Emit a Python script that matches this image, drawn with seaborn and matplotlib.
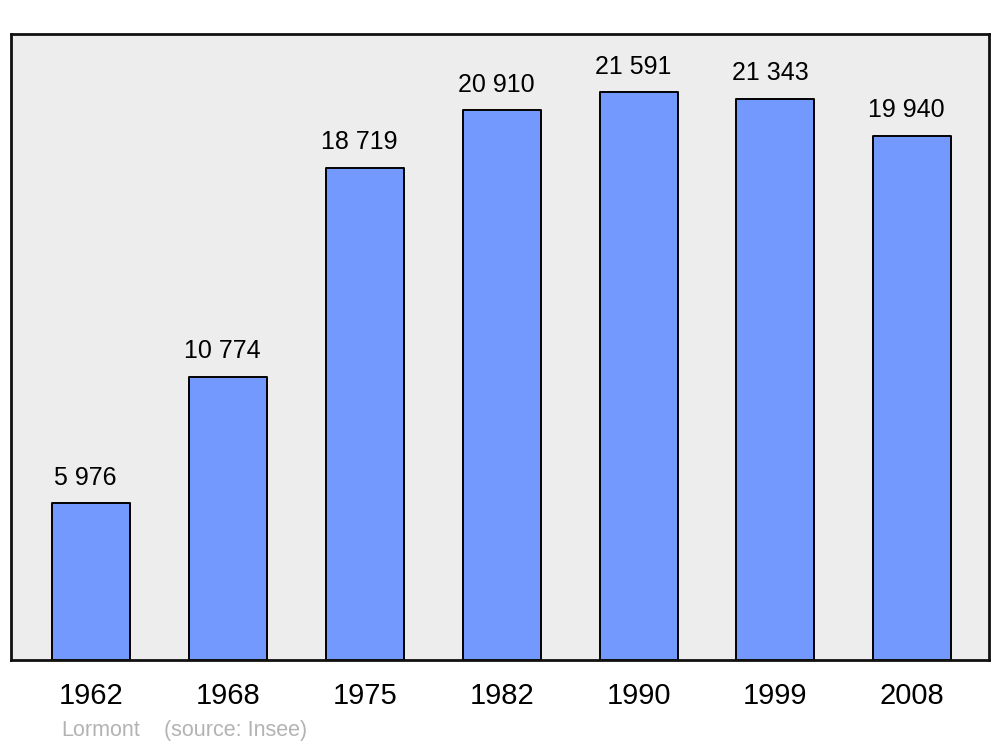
import seaborn as sns
import matplotlib.pyplot as plt
import pandas as pd

years = ['1962', '1968', '1975', '1982', '1990', '1999', '2008']
population = [5976, 10774, 18719, 20910, 21591, 21343, 19940]
commune = 'Lormont'
source = '(source: Insee)'

data = pd.DataFrame({'year': years, 'population': population})

plt.rcParams['font.family'] = ['Liberation Sans', 'DejaVu Sans']

fig = plt.figure(figsize=(10, 7.47), dpi=100)
ax = fig.add_axes([0.011, 0.1165, 0.978, 0.838])
ax.set_facecolor('#ededed')

sns.barplot(data=data, x='year', y='population', color='#7399ff', saturation=1,
            width=0.57, edgecolor='black', linewidth=1.4, ax=ax)
for bar in ax.patches:
    bar.set_joinstyle('round')

labels = [f'{v:,}'.replace(',', ' ') for v in population]
texts = ax.bar_label(ax.containers[0], labels=labels, padding=10, fontsize=18)
for t in texts:
    t.xyann = (-4, 9.5)

ax.set_xlim(-0.584, 6.56)
ax.set_ylim(0, 23800)
ax.set_yticks([])
ax.set_xlabel('')
ax.set_ylabel('')
ax.tick_params(axis='x', length=0, labelsize=21, pad=16)
for s in ax.spines.values():
    s.set_linewidth(2)
    s.set_color('#111111')
    s.set_joinstyle('round')

fig.text(0.061, 0.0215, commune, color='#b3b3b3', fontsize=15.5, va='center')
fig.text(0.164, 0.0215, source, color='#b3b3b3', fontsize=15.5, va='center')

fig.savefig('out.png', dpi=100)
